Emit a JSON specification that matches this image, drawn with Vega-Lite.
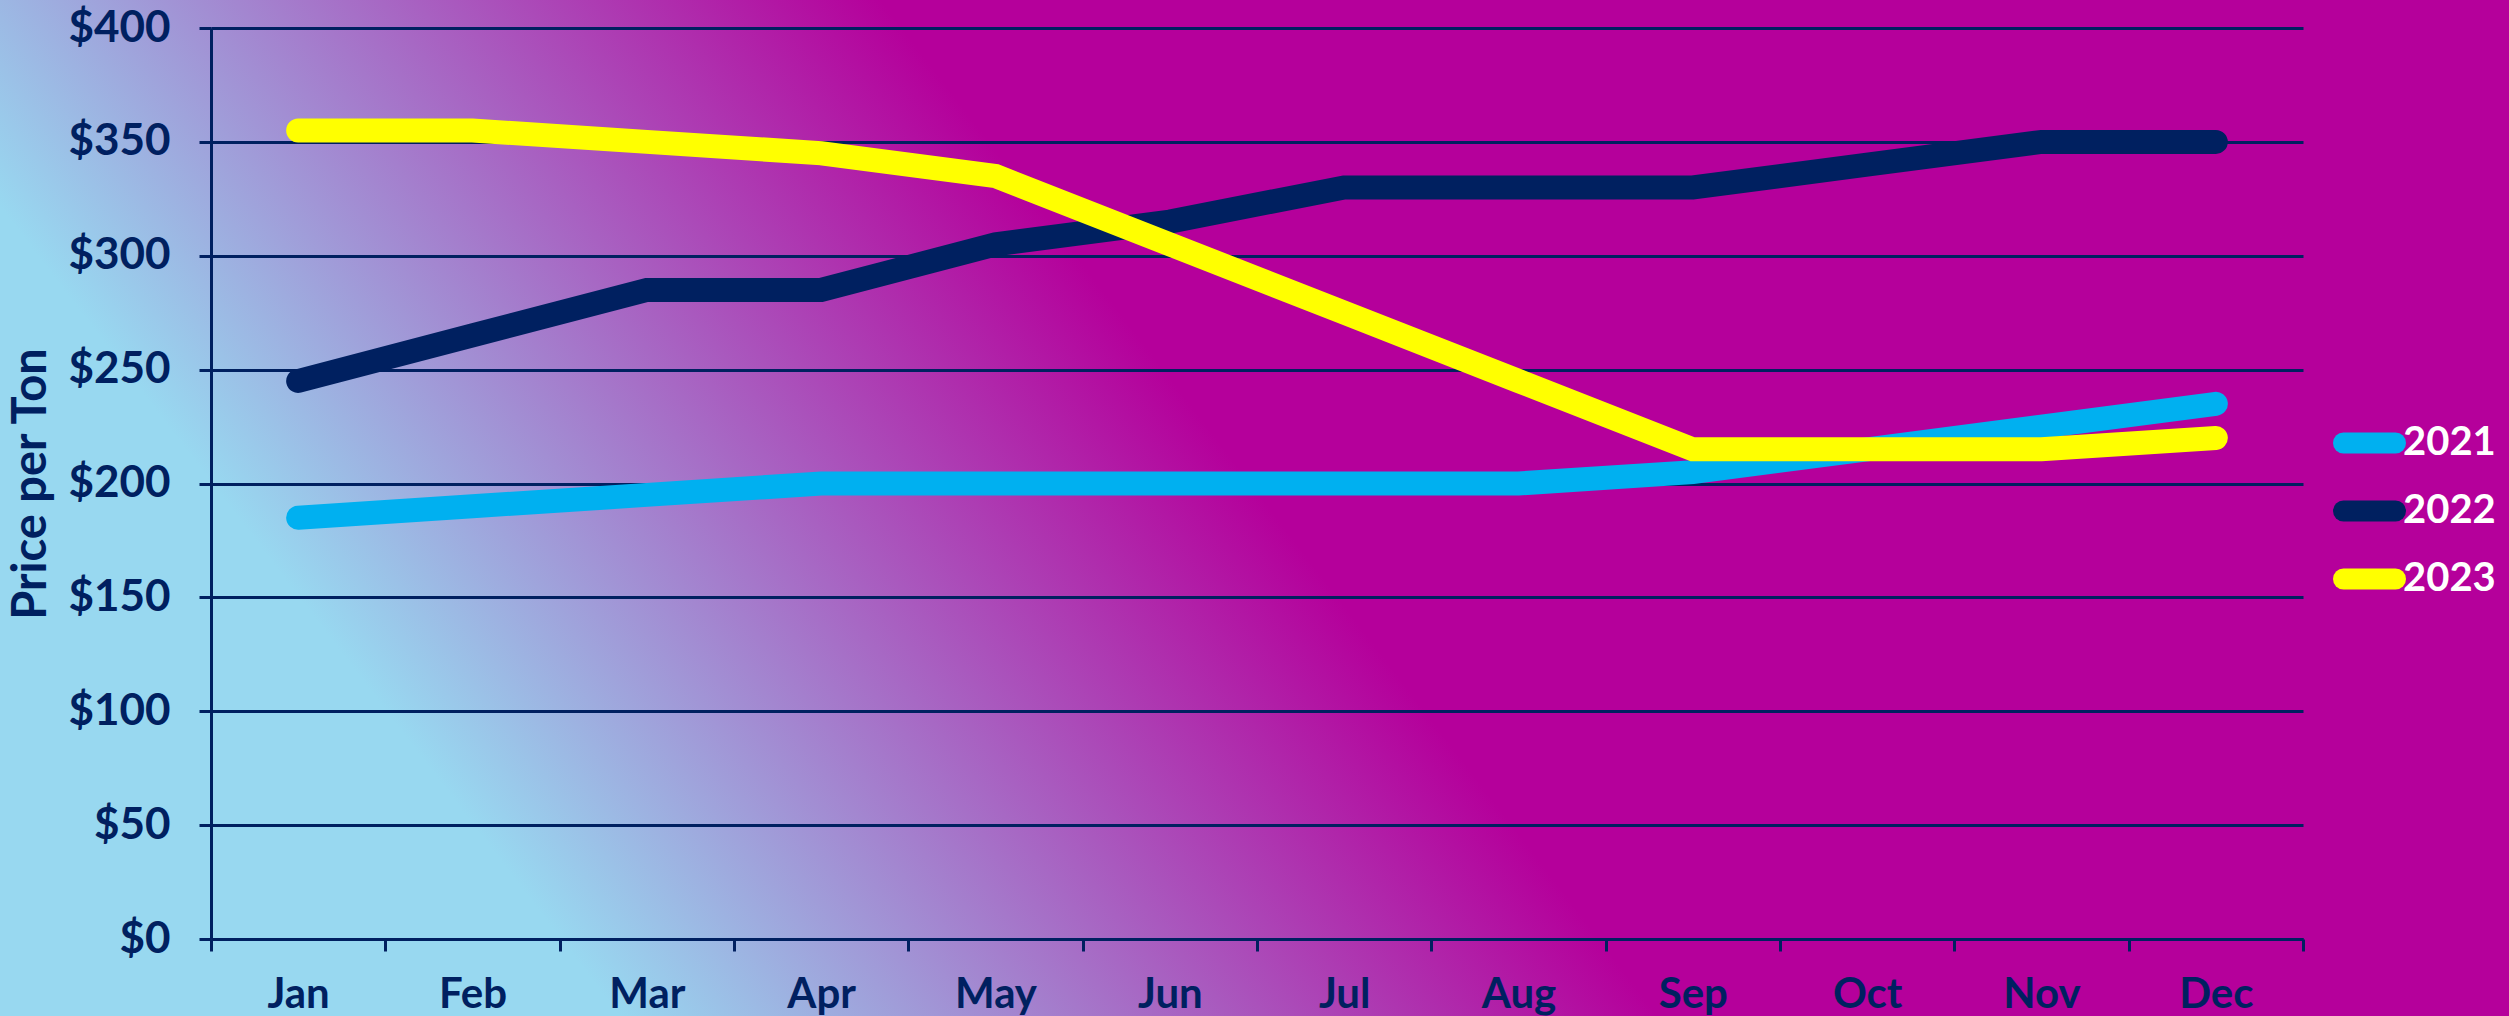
{
  "$schema": "https://vega.github.io/schema/vega-lite/v6.json",
  "width": 2092,
  "height": 911,
  "autosize": {"type": "none"},
  "padding": {"left": 211, "top": 28, "right": 206, "bottom": 77},
  "background": "#B5009B",
  "view": {
    "fill": {"gradient": "linear", "x1": 0.167, "y1": 1, "x2": 0.614, "y2": 0.851, "stops": [{"offset": 0, "color": "#98D8F0"}, {"offset": 1, "color": "#B5009B"}]},
    "stroke": {"gradient": "linear", "x1": 0.167, "y1": 1, "x2": 0.614, "y2": 0.851, "stops": [{"offset": 0, "color": "#98D8F0"}, {"offset": 1, "color": "#B5009B"}]},
    "strokeWidth": 470
  },
  "data": {
    "values": [
      {"month": "Jan", "year": "2021", "price": 185},
      {"month": "Feb", "year": "2021", "price": 190},
      {"month": "Mar", "year": "2021", "price": 195},
      {"month": "Apr", "year": "2021", "price": 200},
      {"month": "May", "year": "2021", "price": 200},
      {"month": "Jun", "year": "2021", "price": 200},
      {"month": "Jul", "year": "2021", "price": 200},
      {"month": "Aug", "year": "2021", "price": 200},
      {"month": "Sep", "year": "2021", "price": 205},
      {"month": "Oct", "year": "2021", "price": 215},
      {"month": "Nov", "year": "2021", "price": 225},
      {"month": "Dec", "year": "2021", "price": 235},
      {"month": "Jan", "year": "2022", "price": 245},
      {"month": "Feb", "year": "2022", "price": 265},
      {"month": "Mar", "year": "2022", "price": 285},
      {"month": "Apr", "year": "2022", "price": 285},
      {"month": "May", "year": "2022", "price": 305},
      {"month": "Jun", "year": "2022", "price": 315},
      {"month": "Jul", "year": "2022", "price": 330},
      {"month": "Aug", "year": "2022", "price": 330},
      {"month": "Sep", "year": "2022", "price": 330},
      {"month": "Oct", "year": "2022", "price": 340},
      {"month": "Nov", "year": "2022", "price": 350},
      {"month": "Dec", "year": "2022", "price": 350},
      {"month": "Jan", "year": "2023", "price": 355},
      {"month": "Feb", "year": "2023", "price": 355},
      {"month": "Mar", "year": "2023", "price": 350},
      {"month": "Apr", "year": "2023", "price": 345},
      {"month": "May", "year": "2023", "price": 335},
      {"month": "Jun", "year": "2023", "price": 305},
      {"month": "Jul", "year": "2023", "price": 275},
      {"month": "Aug", "year": "2023", "price": 245},
      {"month": "Sep", "year": "2023", "price": 215},
      {"month": "Oct", "year": "2023", "price": 215},
      {"month": "Nov", "year": "2023", "price": 215},
      {"month": "Dec", "year": "2023", "price": 220}
    ]
  },
  "mark": {"type": "line", "strokeWidth": 24, "strokeCap": "round", "strokeJoin": "miter"},
  "encoding": {
    "x": {
      "field": "month",
      "type": "ordinal",
      "sort": ["Jan", "Feb", "Mar", "Apr", "May", "Jun", "Jul", "Aug", "Sep", "Oct", "Nov", "Dec"],
      "bandPosition": 0.5,
      "scale": {"type": "band", "paddingInner": 0, "paddingOuter": 0},
      "axis": {
        "title": null,
        "labelAngle": 0,
        "tickBand": "extent",
        "grid": false,
        "domain": true,
        "domainColor": "#002060",
        "domainWidth": 3,
        "ticks": true,
        "tickColor": "#002060",
        "tickWidth": 3,
        "tickSize": 12,
        "labelFont": "Lato",
        "labelFontSize": 42,
        "labelFontWeight": "bold",
        "labelColor": "#002060",
        "labelPadding": 23
      }
    },
    "y": {
      "field": "price",
      "type": "quantitative",
      "scale": {"domain": [0, 400], "nice": false},
      "axis": {
        "title": "Price per Ton",
        "values": [0, 50, 100, 150, 200, 250, 300, 350, 400],
        "format": "$.0f",
        "grid": true,
        "gridColor": "#002060",
        "gridWidth": 3,
        "gridOpacity": 1,
        "domain": true,
        "domainColor": "#002060",
        "domainWidth": 3,
        "ticks": true,
        "tickColor": "#002060",
        "tickWidth": 3,
        "tickSize": 12,
        "labelFont": "Lato",
        "labelFontSize": 44,
        "labelFontWeight": "bold",
        "labelColor": "#002060",
        "labelPadding": 29,
        "titleFont": "Lato",
        "titleFontSize": 47,
        "titleFontWeight": "bold",
        "titleColor": "#002060",
        "titlePadding": 12
      }
    },
    "color": {
      "field": "year",
      "type": "nominal",
      "scale": {"domain": ["2021", "2022", "2023"], "range": ["#00B0F0", "#002060", "#FFFF00"]},
      "legend": {
        "title": null,
        "orient": "none",
        "legendX": 2122,
        "legendY": 381,
        "padding": 0,
        "symbolType": "stroke",
        "symbolSize": 2704,
        "symbolStrokeWidth": 21,
        "symbolOpacity": 1,
        "labelFont": "Lato",
        "labelFontSize": 40,
        "labelFontWeight": "bold",
        "labelColor": "#FFFFFF",
        "labelOffset": -3,
        "clipHeight": 68,
        "rowPadding": 0,
        "encoding": {"symbols": {"strokeCap": {"value": "round"}}}
      }
    }
  }
}
